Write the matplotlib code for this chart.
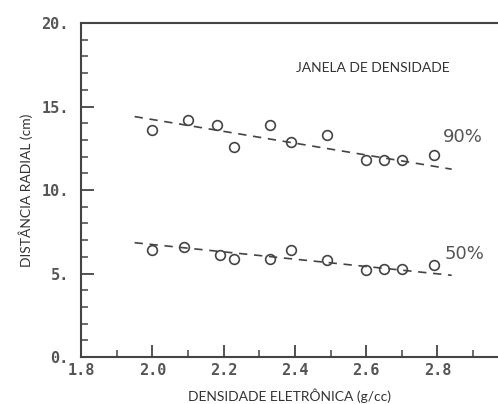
import numpy as np
import matplotlib
matplotlib.use("Agg")
import matplotlib.pyplot as plt
from matplotlib.ticker import MultipleLocator

# pontos (densidade eletronica x distancia radial)
dens_90 = [2.00, 2.10, 2.18, 2.23, 2.33, 2.39, 2.49, 2.60, 2.65, 2.70, 2.79]
dist_90 = [13.6, 14.2, 13.9, 12.6, 13.9, 12.9, 13.3, 11.8, 11.8, 11.8, 12.1]
dens_50 = [2.00, 2.09, 2.19, 2.23, 2.33, 2.39, 2.49, 2.60, 2.65, 2.70, 2.79]
dist_50 = [6.4, 6.6, 6.1, 5.9, 5.9, 6.4, 5.8, 5.2, 5.3, 5.3, 5.5]

# retas tracejadas (inicio e fim)
fit_x = [1.95, 2.84]
fit_90 = [14.4, 11.25]
fit_50 = [6.85, 4.9]

xticks = [1.8, 2.0, 2.2, 2.4, 2.6, 2.8]
xtick_labels = ['1.8', '2.0', '2.2', '2.4', '2.6', '2.8']
yticks = [0, 5, 10, 15, 20]
ytick_labels = ['0.', '5.', '10.', '15.', '20.']

ink = '#444444'
label_font = ['Lato', 'DejaVu Sans']

fig = plt.figure(figsize=(4.98, 4.04), dpi=100)
ax = fig.add_axes([0.163, 0.116, 0.837, 0.827])

ax.plot(fit_x, fit_90, linestyle=(0, (5, 4)), color=ink, lw=1.2)
ax.plot(fit_x, fit_50, linestyle=(0, (5, 4)), color=ink, lw=1.2)
ax.plot(dens_90, dist_90, 'o', mfc='none', mec=ink, ms=7, mew=1.2)
ax.plot(dens_50, dist_50, 'o', mfc='none', mec=ink, ms=7, mew=1.2)

ax.text(2.815, 13.15, '90%', fontsize=13, family='DejaVu Sans', color='#555555', va='center')
ax.text(2.82, 6.15, '50%', fontsize=13, family='DejaVu Sans', color='#555555', va='center')
ax.text(2.62, 17.3, 'JANELA DE DENSIDADE', fontsize=10, family=label_font, color='#333333',
        ha='center', va='center')

ax.set_xlim(1.8, 2.97)
ax.set_ylim(0, 20)
ax.set_xticks(xticks)
ax.set_xticklabels(xtick_labels)
ax.set_yticks(yticks)
ax.set_yticklabels(ytick_labels)
ax.xaxis.set_minor_locator(MultipleLocator(0.1))
ax.yaxis.set_minor_locator(MultipleLocator(1))

ax.tick_params(which='major', direction='in', length=9, width=1.3, color=ink)
ax.tick_params(which='minor', direction='in', length=5, width=1.1, color=ink)
ax.tick_params(axis='y', which='major', pad=9)
ax.tick_params(axis='x', which='major', pad=4)
ax.tick_params(top=False, right=False, which='both')
for lab in ax.get_xticklabels() + ax.get_yticklabels():
    lab.set_family('DejaVu Sans Mono')
    lab.set_weight('bold')
    lab.set_color('#555555')
    lab.set_fontsize(11)

for s in ['left', 'bottom', 'top']:
    ax.spines[s].set_color(ink)
    ax.spines[s].set_linewidth(1.5)
ax.spines['right'].set_visible(False)

ax.set_xlabel('DENSIDADE ELETRÔNICA (g/cc)', fontsize=10, family=label_font, color='#333333', labelpad=8)
ax.set_ylabel('DISTÂNCIA RADIAL (cm)', fontsize=10, family=label_font, color='#333333', labelpad=6)

fig.savefig('out.png', dpi=100)
